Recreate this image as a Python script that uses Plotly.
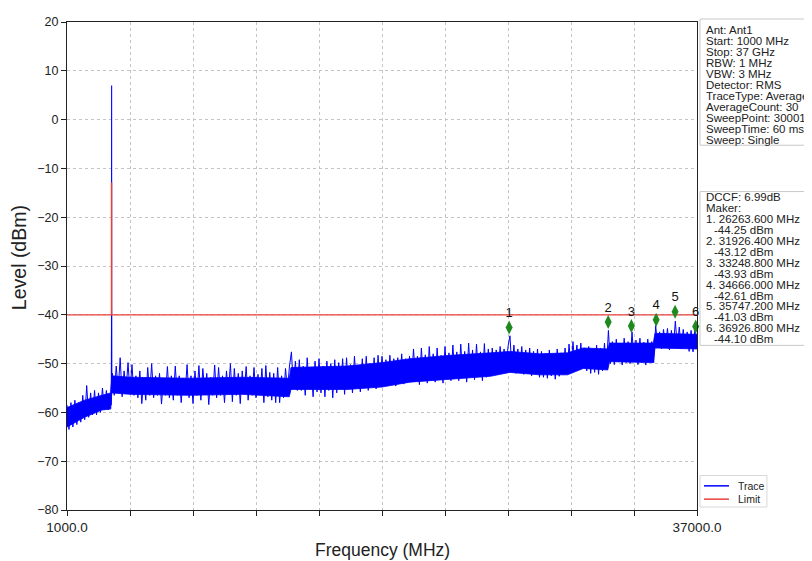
import numpy as np
import plotly.graph_objects as go

# ---------------- data ----------------
start_mhz, stop_mhz = 1000.0, 37000.0

# noise of the averaged trace (alternating peaks / troughs)
trace_levels = [
    -58.5, -63.5, -58.0, -63.0, -57.5, -62.5, -58.0, -62.0, -56.5, -61.5,
    -54.5, -61.0, -56.0, -60.5, -55.5, -60.5, -56.0, -60.0, -55.0, -59.5, -55.5, -59.5,
    -57.5,
    -52.0, -56.5, -50.5, -55.5, -48.8, -56.8, -51.5, -55.5, -49.8, -56.0,
    -50.2, -56.5, -52.5, -57.0, -51.5, -58.2, -53.0, -57.5, -50.8, -56.5,
    -50.0, -57.0, -52.5, -56.5, -52.0, -58.3, -53.0, -56.5, -50.6, -57.0,
    -52.5, -57.5, -50.5, -56.5, -52.5, -58.0, -53.0, -56.0, -50.2, -57.0, -52.5, -58.2,
    -51.5, -56.5, -50.4, -57.5, -51.0, -56.0, -52.0, -58.4, -52.8, -56.5,
    -50.3, -57.0, -50.8, -56.5, -52.5, -58.0, -51.5, -56.0, -50.0, -57.8,
    -51.0, -56.5, -52.0, -58.2, -51.5, -56.0, -50.6, -57.5, -52.5, -56.5,
    -50.8, -57.0, -52.2, -56.2, -51.0, -58.0, -50.4, -56.8, -51.8, -57.5,
    -52.0, -58.0, -50.8, -58.0, -52.5, -57.0, -51.0,
    -55.5, -50.5, -47.6, -55.0, -49.5, -55.5,
    -49.2, -55.5, -50.5, -56.5, -48.8, -55.0, -50.8, -56.8, -49.5, -55.8,
    -49.0, -56.0, -50.5, -56.8, -49.5, -55.5, -50.0, -57.0, -49.2, -56.0, -49.8, -55.0, -49.0, -56.3,
    -48.8, -55.0, -50.2, -56.0, -48.5, -54.5, -50.5, -55.8, -49.0, -54.8,
    -48.5, -55.5, -50.0, -54.5, -48.8, -55.2, -48.3, -54.2,
    -48.5, -54.0, -49.2, -54.5, -48.3, -53.8, -49.0, -54.6, -48.8, -53.5, -48.0, -54.2, -49.0, -53.8, -48.5,
    -53.5, -47.0, -53.0, -48.5, -54.3, -46.8, -53.2, -48.2, -54.0, -46.5,
    -53.0, -48.0, -53.8, -46.8, -52.8, -48.3, -54.0, -46.5, -53.0, -47.8, -53.5,
    -46.2, -52.5, -47.6, -53.5, -46.0, -52.8, -47.5, -53.8, -45.8, -52.6,
    -47.2, -53.3, -46.0, -52.4, -47.6, -53.5, -45.9, -52.8, -47.0,
    -52.5, -46.8, -52.0, -47.2, -51.5, -46.5, -52.0, -47.0, -51.2, -46.5,
    -44.3,
    -51.5, -46.2, -52.0, -47.0, -51.5, -46.5, -52.2, -47.2, -51.8, -46.8, -52.5, -47.5, -52.0, -47.0, -52.8,
    -47.5, -52.8, -48.0, -53.0, -47.2, -52.5, -48.2, -53.2, -47.0, -52.6, -47.8, -52.2, -46.8, -52.0,
    -46.0, -51.0, -45.5, -50.5, -46.2, -51.2, -45.8, -50.8, -46.8, -51.5,
    -46.5, -52.0, -47.0, -51.8, -46.2, -52.2, -46.8, -51.5, -45.8, -51.0,
    -43.2,
    -50.0, -45.5, -50.2, -45.0, -49.5, -45.8, -50.3, -44.8, -49.8, -45.5, -50.0,
    -43.5,
    -49.5, -45.2, -50.2, -44.8, -49.8, -45.6, -50.3, -45.0, -49.6, -45.5,
    -49.8,
    -42.2, -46.5, -43.5, -47.0, -43.0, -46.5, -42.8, -47.2, -43.2, -46.8,
    -41.3, -46.5, -42.5, -47.0, -43.0, -46.8, -43.5, -47.5, -43.2, -47.6, -42.5, -46.5,
]

# dense core of the noise band (where the trace looks solid)
core_freqs = [1000, 2000, 3000, 3500, 3560, 4600, 8000, 11000, 13700, 13800, 17000, 19000,
              20600, 22900, 25200, 26300, 28000, 29600, 30500, 31900, 32000, 34500, 34600, 37000]
core_upper = [-59.0, -57.5, -56.5, -56.0, -52.5, -52.8, -53.0, -52.8, -53.0, -50.8, -50.5, -49.8,
              -49.0, -48.3, -47.8, -47.5, -48.0, -47.8, -46.8, -47.0, -45.8, -45.8, -43.8, -44.0]
core_lower = [-63.0, -61.0, -59.5, -59.3, -56.0, -56.3, -56.5, -56.3, -56.8, -55.3, -55.3, -54.8,
              -53.8, -53.2, -52.6, -51.8, -52.3, -52.3, -51.0, -51.3, -49.6, -49.8, -46.8, -47.0]

# carrier (in-band emission) detail
carrier_freqs = [3530.0, 3545.0, 3548.0, 3550.0, 3552.0, 3556.0, 3562.0]
carrier_levels = [-58.5, -40.5, -37.0, 7.0, -38.0, -40.0, -56.0]

# limit line
limit_freqs = [1000.0, 3540.0, 3540.0, 3550.0, 3550.0, 37000.0]
limit_levels = [-40.0, -40.0, -13.0, -13.0, -40.0, -40.0]

# markers
marker_ids = ["1", "2", "3", "4", "5", "6"]
marker_freqs = [26263.6, 31926.4, 33248.8, 34666.0, 35747.2, 36926.8]
marker_readouts = [-44.25, -43.12, -43.93, -42.61, -41.03, -44.10]
marker_plot_levels = [-42.6, -41.5, -42.3, -41.0, -39.4, -42.4]

x_tick_vals = [1000, 4600, 8200, 11800, 15400, 19000, 22600, 26200, 29800, 33400, 37000]
x_tick_text = ["1000.0", "", "", "", "", "", "", "", "", "", "37000.0"]
y_tick_vals = [20, 10, 0, -10, -20, -30, -40, -50, -60, -70, -80]

info_lines = ["Ant: Ant1", "Start: 1000 MHz", "Stop: 37 GHz", "RBW: 1 MHz", "VBW: 3 MHz",
              "Detector: RMS", "TraceType: Average", "AverageCount: 30", "SweepPoint: 30001",
              "SweepTime: 60 ms", "Sweep: Single"]
dccf_text = "DCCF: 6.99dB"
maker_title = "Maker:"

# ---------------- build traces ----------------
noise_freqs = np.linspace(start_mhz, stop_mhz, len(trace_levels))
k_before = int(np.searchsorted(noise_freqs, carrier_freqs[0])) - 1
spike_f = [noise_freqs[k_before]] + carrier_freqs + [noise_freqs[k_before + 1]]
spike_l = [trace_levels[k_before]] + carrier_levels + [trace_levels[k_before + 1]]

# the page body has an 8px default margin; compensate so the plot sits like the reference
OFF = 8
W, H = 812 - OFF, 561 - OFF
L, R, T, B = 66.5 - OFF, 697.0 - OFF, 15.0 - OFF, 510.0 - OFF
def px(x):  # window pixel -> paper
    return (x - OFF - L) / (R - L)
def py(y):
    return (B - (y - OFF)) / (B - T)

blue = "#0000ff"
red = "#e8413c"
fig = go.Figure()
fig.add_trace(go.Scatter(x=core_freqs, y=core_lower, mode="lines", line=dict(width=0.8, color=blue),
                         showlegend=False, hoverinfo="skip"))
fig.add_trace(go.Scatter(x=core_freqs, y=core_upper, mode="lines", line=dict(width=0.8, color=blue),
                         fill="tonexty", fillcolor=blue, showlegend=False, hoverinfo="skip"))
fig.add_trace(go.Scatter(x=noise_freqs, y=trace_levels, mode="lines", name="Trace",
                         line=dict(color=blue, width=1.0), showlegend=False))
fig.add_trace(go.Scatter(x=spike_f, y=spike_l, mode="lines", name="Trace",
                         line=dict(color=blue, width=1.1), showlegend=False))
fig.add_trace(go.Scatter(x=limit_freqs, y=limit_levels, mode="lines", name="Limit",
                         line=dict(color=red, width=1.3), showlegend=False))
fig.add_trace(go.Scatter(x=marker_freqs, y=marker_plot_levels, mode="markers+text",
                         text=marker_ids, textposition="top center",
                         textfont=dict(size=13, color="#111111"),
                         marker=dict(symbol="diamond-tall", size=10, color="#1e8a1e",
                                     line=dict(width=0)),
                         cliponaxis=False, showlegend=False))

font_main = "Liberation Sans, Arial, sans-serif"
fig.update_layout(
    width=W, height=H,
    margin=dict(l=L, r=W - R, t=T, b=H - B, pad=0),
    paper_bgcolor="white", plot_bgcolor="white",
    font=dict(family=font_main, color="#222222"),
    showlegend=False,
)
axis_common = dict(showline=True, linecolor="#222222", linewidth=1.2, mirror=True,
                   ticks="outside", ticklen=5, tickcolor="#222222", tickwidth=1,
                   showgrid=True, gridcolor="#c4c4c4", gridwidth=1, griddash="3px,3px",
                   zeroline=False)
fig.update_xaxes(range=[start_mhz, stop_mhz], tickmode="array", tickvals=x_tick_vals,
                 ticktext=x_tick_text, tickfont=dict(size=13.5), **axis_common)
fig.update_yaxes(range=[-80, 20], tickmode="array", tickvals=y_tick_vals,
                 tickfont=dict(size=12.5), **axis_common)

ann = []
shapes = []
# axis titles
ann.append(dict(text="Frequency (MHz)", xref="paper", yref="paper", x=px(382), y=py(551),
                xanchor="center", yanchor="middle", showarrow=False, font=dict(size=17.5)))
ann.append(dict(text="Level (dBm)", xref="paper", yref="paper", x=px(18), y=py(254),
                xanchor="center", yanchor="middle", showarrow=False, textangle=-90,
                font=dict(size=19.5)))

# info box 1
box_line = "#c8c8c8"
shapes.append(dict(type="rect", xref="paper", yref="paper", x0=px(700), x1=px(860),
                   y0=py(140), y1=py(12), line=dict(color=box_line, width=1), fillcolor="white",
                   layer="above"))
for k, s in enumerate(info_lines):
    ann.append(dict(text=s, xref="paper", yref="paper", x=px(704), y=py(23 + 11.2 * k),
                    xanchor="left", yanchor="middle", showarrow=False,
                    font=dict(size=11.5, color="#222222")))

# marker box
shapes.append(dict(type="rect", xref="paper", yref="paper", x0=px(700), x1=px(860),
                   y0=py(343), y1=py(187), line=dict(color=box_line, width=1), fillcolor="white",
                   layer="above"))
box2 = [(dccf_text, 704), (maker_title, 704)]
for mid, f, v in zip(marker_ids, marker_freqs, marker_readouts):
    box2.append((f"{mid}. {f:.3f} MHz", 704))
    box2.append((f"{v:.2f} dBm", 712))
for k, (s, xx) in enumerate(box2):
    ann.append(dict(text=s, xref="paper", yref="paper", x=px(xx), y=py(193 + 11.05 * k),
                    xanchor="left", yanchor="middle", showarrow=False,
                    font=dict(size=11.5, color="#222222")))

# legend box (drawn)
shapes.append(dict(type="rect", xref="paper", yref="paper", x0=px(700), x1=px(767),
                   y0=py(507), y1=py(475), line=dict(color="#d8d8d8", width=1), fillcolor="white",
                   layer="above"))
for name, col, yy in [("Trace", blue, 485.5), ("Limit", red, 499)]:
    shapes.append(dict(type="line", xref="paper", yref="paper", x0=px(704), x1=px(729),
                       y0=py(yy), y1=py(yy), line=dict(color=col, width=1.5), layer="above"))
    ann.append(dict(text=name, xref="paper", yref="paper", x=px(736), y=py(yy),
                    xanchor="left", yanchor="middle", showarrow=False,
                    font=dict(size=10.5, color="#222222")))

fig.update_layout(annotations=ann, shapes=shapes)
fig.write_html("out.html")
